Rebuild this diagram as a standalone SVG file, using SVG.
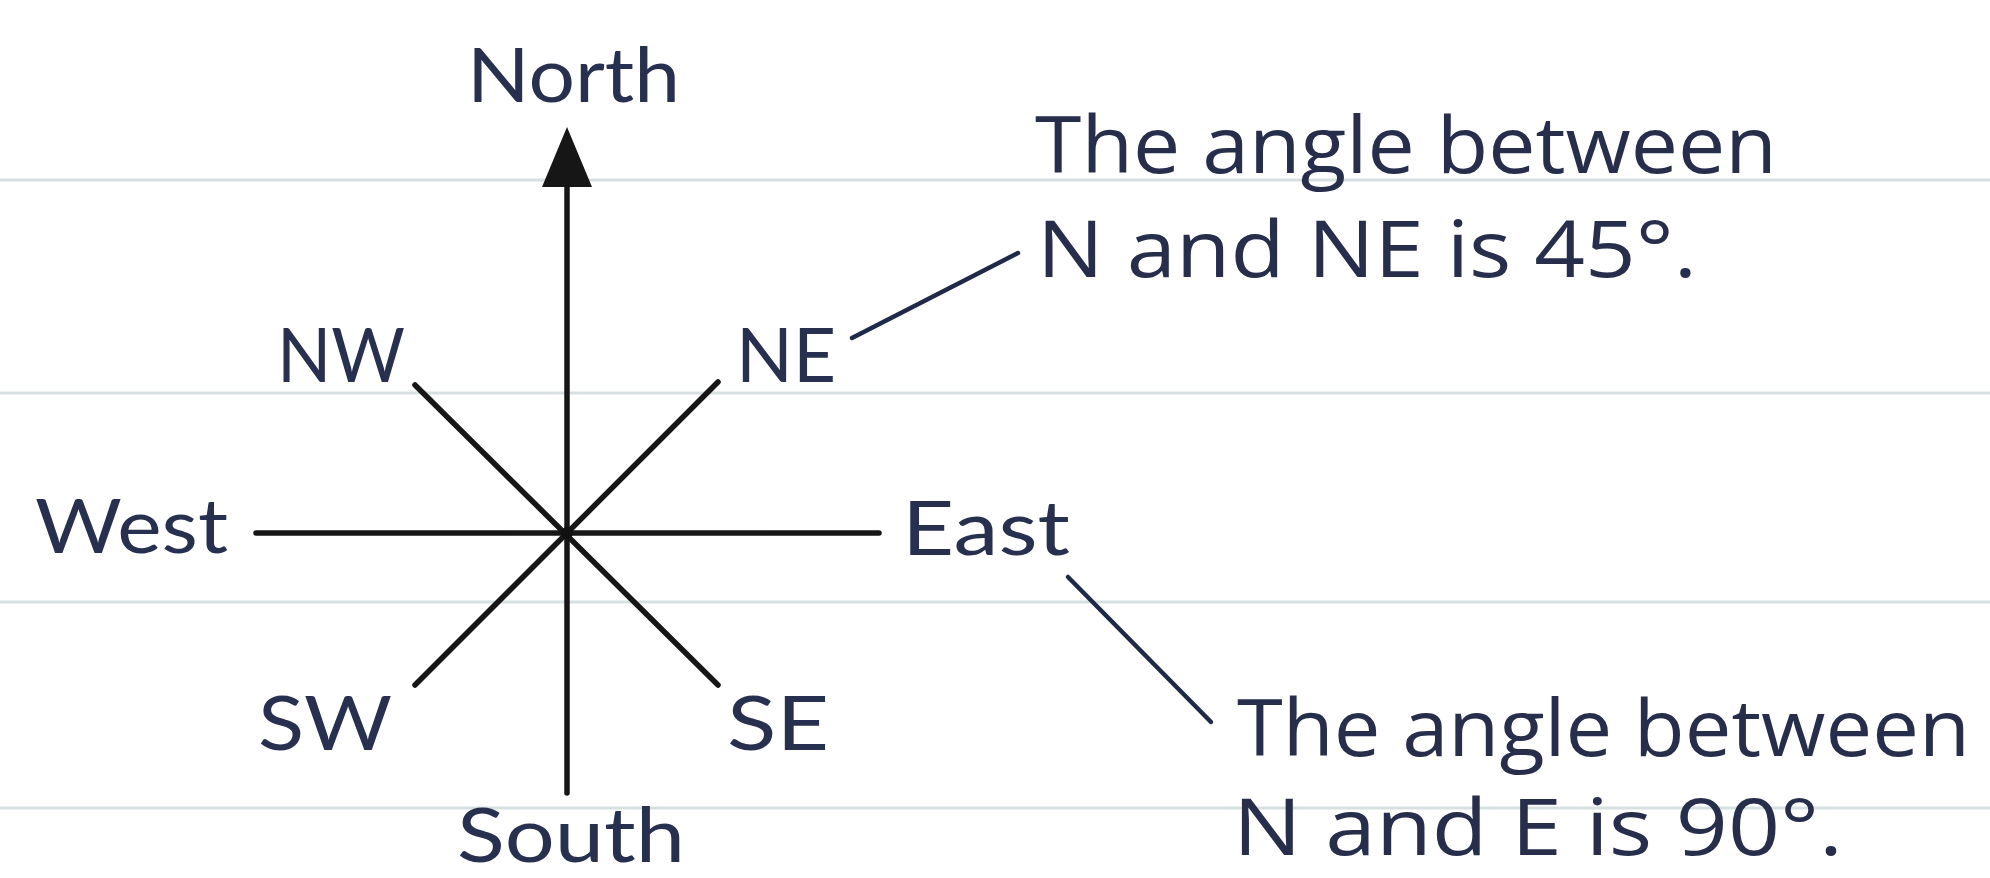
<svg xmlns="http://www.w3.org/2000/svg" width="1990" height="878" viewBox="0 0 1990 878">
<style>
.rule{stroke:#d6e0e0;stroke-width:3;fill:none}
.ax{stroke:#161616;stroke-width:5.5;stroke-linecap:round;fill:none}
.lead{stroke:#1f2a48;stroke-width:4.5;stroke-linecap:round;fill:none}
.lbl{font-family:Lato,"Open Sans","Liberation Sans",sans-serif;font-size:76px;fill:#27304f}
.note{font-family:"Open Sans","Liberation Sans",sans-serif;font-size:78px;fill:#262e4c}
</style>
<rect x="0" y="0" width="1990" height="878" fill="#ffffff"/>
<g id="ruling">
<line class="rule" x1="0" y1="180" x2="1990" y2="180"/>
<line class="rule" x1="0" y1="393" x2="1990" y2="393"/>
<line class="rule" x1="0" y1="602" x2="1990" y2="602"/>
<line class="rule" x1="0" y1="808" x2="1990" y2="808"/>
</g>
<g id="connectors">
<line class="ax" x1="567" y1="180" x2="567" y2="793"/>
<polygon points="567,127 542,187 592,187" fill="#161616"/>
<line class="ax" x1="256" y1="533" x2="879" y2="533" stroke-width="6.5"/>
<line class="ax" x1="415" y1="385" x2="718" y2="685"/>
<line class="ax" x1="718" y1="382" x2="415" y2="685"/>
<circle cx="567" cy="533" r="6" fill="#111"/>
<line class="lead" x1="852" y1="338" x2="1018" y2="253"/>
<line class="lead" x1="1068" y1="577" x2="1211" y2="722"/>
</g>
<g id="north"><text class="lbl" x="467" y="102" textLength="213" lengthAdjust="spacingAndGlyphs">North</text></g>
<g id="northwest"><text class="lbl" x="277" y="382" textLength="128" lengthAdjust="spacingAndGlyphs">NW</text></g>
<g id="northeast"><text class="lbl" x="736" y="382" textLength="100" lengthAdjust="spacingAndGlyphs">NE</text></g>
<g id="west"><text class="lbl" x="35" y="553" textLength="193" lengthAdjust="spacingAndGlyphs">West</text></g>
<g id="east"><text class="lbl" x="902" y="555" textLength="168" lengthAdjust="spacingAndGlyphs">East</text></g>
<g id="southwest"><text class="lbl" x="258" y="750" textLength="134" lengthAdjust="spacingAndGlyphs">SW</text></g>
<g id="southeast"><text class="lbl" x="727" y="750" textLength="102" lengthAdjust="spacingAndGlyphs">SE</text></g>
<g id="south"><text class="lbl" x="457" y="862" textLength="228" lengthAdjust="spacingAndGlyphs">South</text></g>
<g id="note-ne">
<text class="note" x="1035" y="173" textLength="742" lengthAdjust="spacingAndGlyphs">The angle between</text>
<text class="note" x="1037" y="277" textLength="660" lengthAdjust="spacingAndGlyphs">N and NE is 45°.</text>
</g>
<g id="note-e">
<text class="note" x="1237" y="756" textLength="733" lengthAdjust="spacingAndGlyphs">The angle between</text>
<text class="note" x="1233" y="855" textLength="610" lengthAdjust="spacingAndGlyphs">N and E is 90°.</text>
</g>
</svg>
